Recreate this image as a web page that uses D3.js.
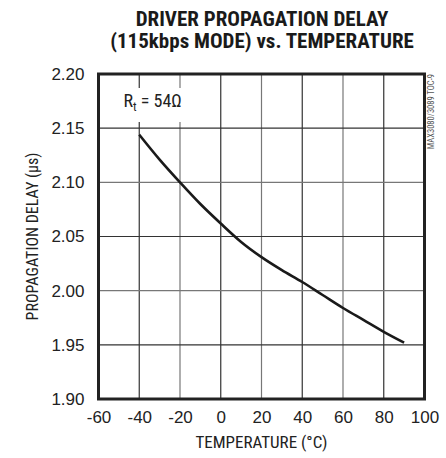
<!DOCTYPE html>
<html>
<head>
<meta charset="utf-8">
<script src="https://cdn.jsdelivr.net/npm/d3@7"></script>
<style>
  body { margin: 0; background: #fff; }
  svg { display: block; font-family: "Liberation Sans Narrow", "Roboto Condensed", "Arial Narrow", "Liberation Sans", sans-serif; font-stretch: condensed; }
</style>
</head>
<body>
<div id="chart"></div>
<script>
/** chart data */
const temps = [-40, -30, -20, -10, 0, 10, 20, 30, 40, 50, 60, 70, 80, 90];
const delays = [2.144, 2.121, 2.100, 2.080, 2.062, 2.045, 2.031, 2.019, 2.008, 1.996, 1.984, 1.973, 1.962, 1.952];
const xTicks = [-60, -40, -20, 0, 20, 40, 60, 80, 100];
const yTicks = [1.90, 1.95, 2.00, 2.05, 2.10, 2.15, 2.20];

const W = 446, H = 458;
const margin = { left: 98.5, top: 74, right: 446 - 424.5, bottom: 458 - 399 };
const width = W - margin.left - margin.right;
const height = H - margin.top - margin.bottom;

const svg = d3.select("#chart").append("svg").attr("width", W).attr("height", H);

/** title */
svg.append("text")
  .attr("x", 262).attr("y", 26)
  .attr("text-anchor", "middle")
  .attr("font-weight", "bold").attr("font-size", 21)
  .attr("fill", "#1a1a1a")
  .text("DRIVER PROPAGATION DELAY");
svg.append("text")
  .attr("x", 262).attr("y", 48)
  .attr("text-anchor", "middle")
  .attr("font-weight", "bold").attr("font-size", 21)
  .attr("fill", "#1a1a1a")
  .text("(115kbps MODE) vs. TEMPERATURE");

const g = svg.append("g").attr("transform", `translate(${margin.left},${margin.top})`);

/** scales */
const x = d3.scaleLinear().domain([-60, 100]).range([0, width]);
const y = d3.scaleLinear().domain([1.90, 2.20]).range([height, 0]);

/** grid */
g.append("g").selectAll("line").data(xTicks.slice(1, -1)).join("line")
  .attr("x1", d => x(d)).attr("x2", d => x(d))
  .attr("y1", 0).attr("y2", height)
  .attr("stroke", (d, i) => i % 2 ? "#777" : "#333").attr("stroke-width", 1.2);
g.append("g").selectAll("line").data(yTicks.slice(1, -1)).join("line")
  .attr("x1", 0).attr("x2", width)
  .attr("y1", d => y(d)).attr("y2", d => y(d))
  .attr("stroke", (d, i) => i % 2 ? "#777" : "#333").attr("stroke-width", 1.2);

/** label box */
const label = g.append("g").attr("transform", `translate(${x(-60) + 25},${y(2.20) + 33})`);
label.append("rect")
  .attr("x", -6).attr("y", -19).attr("width", 72).attr("height", 34)
  .attr("fill", "#fff");
const lt = label.append("text").attr("font-size", 18).attr("fill", "#222");
lt.append("tspan").text("R");
lt.append("tspan").attr("font-size", 12).attr("dy", 4).text("t");
lt.append("tspan").attr("dy", -4).text(" = 54\u03A9");

/** curve */
const line = d3.line()
  .curve(d3.curveMonotoneX)
  .x((d, i) => x(temps[i]))
  .y(d => y(d));
g.append("path")
  .attr("d", line(delays))
  .attr("fill", "none")
  .attr("stroke", "#1a1a1a")
  .attr("stroke-width", 2.6);

/** frame */
g.append("rect")
  .attr("width", width).attr("height", height)
  .attr("fill", "none").attr("stroke", "#222").attr("stroke-width", 3);

/** axes labels */
const xAxis = d3.axisBottom(x).tickValues(xTicks).tickSize(0).tickPadding(12).tickFormat(d => String(d));
const yAxis = d3.axisLeft(y).tickValues(yTicks).tickSize(0).tickPadding(14).tickFormat(d3.format(".2f"));
g.append("g").attr("transform", `translate(0,${height})`).call(xAxis)
  .call(a => a.select(".domain").remove())
  .selectAll("text").attr("font-size", 17).attr("fill", "#222").attr("font-family", null);
g.append("g").call(yAxis)
  .call(a => a.select(".domain").remove())
  .selectAll("text").attr("font-size", 17).attr("fill", "#222").attr("font-family", null);

svg.append("text")
  .attr("x", margin.left + width / 2).attr("y", 448)
  .attr("text-anchor", "middle").attr("font-size", 17).attr("fill", "#222")
  .text("TEMPERATURE (\u00B0C)");
svg.append("text")
  .attr("transform", `translate(38,${margin.top + height / 2}) rotate(-90)`)
  .attr("text-anchor", "middle").attr("font-size", 16).attr("fill", "#222")
  .text("PROPAGATION DELAY (\u00B5s)");

/** part number */
svg.append("text")
  .attr("transform", `translate(434,${margin.top}) rotate(-90)`)
  .attr("text-anchor", "end").attr("font-size", 8.5).attr("fill", "#555")
  .text("MAX3080/3089 TOC-9");
</script>
</body>
</html>
